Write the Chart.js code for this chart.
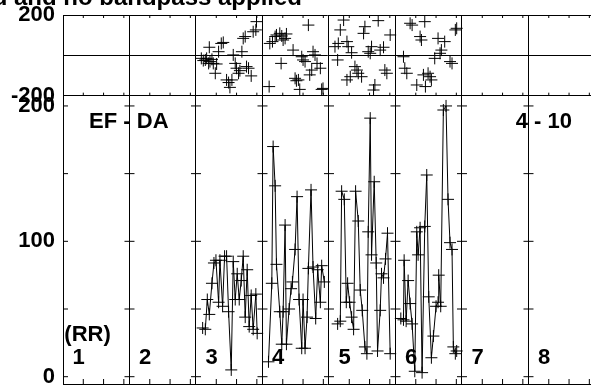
<!DOCTYPE html>
<html>
<head>
<meta charset="utf-8">
<script src="https://cdn.jsdelivr.net/npm/chart.js@4"></script>
<style>
html, body { margin: 0; padding: 0; background: #fff; overflow: hidden; }
canvas { display: block; }
</style>
</head>
<body>
<canvas id="grafico" width="591" height="387"></canvas>
<script>
// rotulos dos segmentos e divisorias
const segmentos = ['1', '2', '3', '4', '5', '6', '7', '8'];
const divisorias = [0, 1, 2, 3, 4, 5, 6, 7];
const marcasX = [0.305, 0.61, 0.915];   // marcas menores dentro de cada segmento
const marcasY = [0, 50, 100, 150, 200];
const ticksTopo = [-200, 0, 200];
const ticksBase = [0, 100, 200];

// painel de cima (dispersao)
const topoX = [2.08, 2.11, 2.14, 2.16, 2.19, 2.21, 2.24, 2.26, 2.29, 2.31, 2.20, 2.34, 2.38, 2.41, 2.46, 2.49,
  2.51, 2.54, 2.56, 2.59, 2.61, 2.64, 2.66, 2.69, 2.71, 2.74, 2.76, 2.79, 2.83, 2.86, 2.90, 2.91,
  3.11, 3.15, 3.19, 3.21, 3.26, 3.29, 3.31, 3.34, 3.36, 3.10, 3.28, 3.46, 3.49, 3.51, 3.54, 3.56,
  3.59, 3.61, 3.64, 3.69, 3.71, 3.74, 3.76, 3.79, 3.82, 3.87, 3.89, 3.91,
  4.22, 4.17, 4.54, 4.52, 4.74, 4.92, 4.09, 4.14, 4.27, 4.29, 4.34, 4.59, 4.64, 4.62, 4.77, 4.82,
  4.13, 4.39, 4.42, 4.44, 4.49, 4.27, 4.32, 4.84, 4.87, 4.69, 4.67,
  5.22, 5.25, 5.44, 5.37, 5.39, 5.90, 5.92, 5.64, 5.74, 5.69, 5.67, 5.59, 5.82, 5.85, 5.12, 5.14,
  5.17, 5.42, 5.49, 5.52, 5.54, 5.32, 5.45];
const topoY = [-15, -26, -23, -15, -40, -31, -20, -40, -89, -43, 40, 18, 59, 64, -122, -135,
  -159, -122, 2, -40, -64, -89, -76, 18, 84, 93, -56, -64, -102, 117, 126, 167,
  59, 68, 93, 101, 109, 96, 76, 84, 106, -155, -40, 26, -114, -126, -122, -169,
  -7, -23, -31, 150, -97, -73, 18, 2, -40, -64, -169, -164,
  175, 126, 142, 109, 172, 101, 43, 59, 68, 43, 13, 18, 43, 10, 26, 40,
  -23, -56, -73, -89, -106, -122, -106, -73, -89, -147, -172,
  159, 150, 167, 93, 76, 126, 134, 84, 68, 26, 10, -15, -31, -40, -7, -64,
  -89, -97, -89, -106, -122, -147, -155];

// painel de baixo (RR), um par de listas por segmento
const rrX3 = [2.10, 2.14, 2.17, 2.20, 2.24, 2.27, 2.30, 2.34, 2.36, 2.40, 2.43, 2.46, 2.49, 2.53,
  2.56, 2.59, 2.62, 2.65, 2.68, 2.71, 2.74, 2.77, 2.80, 2.83, 2.86, 2.90, 2.92];
const rrY3 = [36, 35, 57, 46, 69, 84, 86, 55, 86, 52, 89, 89, 48, 5, 85, 57, 76, 57, 71, 89, 44, 79, 37, 60, 35, 61, 32];
const rrX4 = [3.09, 3.14, 3.16, 3.19, 3.21, 3.26, 3.29, 3.31, 3.34, 3.36, 3.40, 3.43, 3.45, 3.49,
  3.52, 3.55, 3.59, 3.61, 3.64, 3.67, 3.69, 3.73, 3.76, 3.80, 3.83, 3.87, 3.89, 3.93];
const rrY4 = [11, 69, 170, 141, 83, 48, 24, 48, 112, 24, 50, 65, 70, 94, 133, 57, 21, 57, 21, 44, 80, 138, 81, 43, 79, 55, 82, 70];
const rrX5 = [4.13, 4.17, 4.19, 4.23, 4.26, 4.28, 4.31, 4.34, 4.37, 4.40, 4.44, 4.47, 4.50, 4.54,
  4.57, 4.59, 4.62, 4.64, 4.68, 4.71, 4.73, 4.77, 4.79, 4.82, 4.85, 4.88, 4.92];
const rrY5 = [39, 41, 137, 131, 55, 69, 55, 44, 35, 137, 115, 64, 49, 22, 17, 107, 191, 90, 144, 84, 19, 49, 76, 73, 87, 106, 17];
const rrX6 = [5.08, 5.12, 5.13, 5.16, 5.19, 5.22, 5.25, 5.29, 5.32, 5.34, 5.37, 5.40, 5.44, 5.47,
  5.50, 5.54, 5.57, 5.61, 5.64, 5.65, 5.68, 5.72, 5.76, 5.79, 5.82, 5.85, 5.87, 5.90, 5.92];
const rrY6 = [43, 42, 86, 41, 71, 54, 39, 4, 107, 90, 110, 3, 111, 149, 59, 14, 30, 52, 55, 75, 52, 197, 200, 131, 99, 94, 22, 17, 19];

const BASE_MIN = -5.4, BASE_MAX = 207.6;
const fonte = '"Liberation Sans", Arial, Helvetica, sans-serif';

function pares(xs, ys) {
  return xs.map((x, i) => ({ x: x, y: ys[i] }));
}

function serieRR(xs, ys) {
  return {
    type: 'line', yAxisID: 'yBase', data: pares(xs, ys),
    borderColor: '#000', borderWidth: 1, tension: 0,
    pointStyle: 'cross', pointRadius: 6, pointBorderColor: '#000', pointBorderWidth: 1,
    order: 1
  };
}

// marcas de eixo feitas como pontos em forma de linha
let cruzes = [];
divisorias.forEach(d => marcasY.forEach(v => cruzes.push({ x: d, y: v })));
let menoresTopo = [];
let menoresBase = [];
divisorias.forEach(d => marcasX.forEach(m => {
  menoresTopo.push({ x: d + m, y: 200 });
  menoresTopo.push({ x: d + m, y: -200 });
  menoresBase.push({ x: d + m, y: BASE_MIN });
}));

function marca(yID, data, raio, rot) {
  return {
    type: 'scatter', yAxisID: yID, data: data,
    pointStyle: 'line', pointRadius: raio, rotation: rot,
    borderColor: '#000', pointBorderColor: '#000', pointBorderWidth: 1, borderWidth: 1,
    order: 3
  };
}

function zeraPadding(s) {
  s.paddingTop = 0; s.paddingBottom = 0; s.paddingLeft = 0; s.paddingRight = 0;
}

const textos = {
  id: 'textos',
  afterDatasetsDraw(chart) {
    const ctx = chart.ctx;
    const x = chart.scales.x;
    const y = chart.scales.yBase;
    ctx.save();
    ctx.fillStyle = '#000';
    ctx.font = 'bold 22px ' + fonte;
    ctx.textAlign = 'center';
    ctx.textBaseline = 'middle';
    segmentos.forEach((s, i) => ctx.fillText(s, x.getPixelForValue(i + 0.235), y.getPixelForValue(14)));
    ctx.fillText('EF - DA', x.getPixelForValue(0.99), y.getPixelForValue(188));
    ctx.fillText('4 - 10', x.getPixelForValue(7.23), y.getPixelForValue(188));
    ctx.textAlign = 'left';
    ctx.fillText('(RR)', x.getPixelForValue(0.02), y.getPixelForValue(31));
    // titulo cortado no topo
    ctx.font = 'bold 24px ' + fonte;
    ctx.textAlign = 'right';
    ctx.textBaseline = 'alphabetic';
    ctx.fillText('Data detrended and no bandpass applied', 302, 5);
    ctx.restore();
  }
};

const fonteTicks = { family: fonte, size: 22, weight: 'bold' };

const config = {
  data: {
    datasets: [
      {
        type: 'scatter', yAxisID: 'yTopo', data: pares(topoX, topoY),
        pointStyle: 'cross', pointRadius: 6, pointBorderColor: '#000', pointBorderWidth: 1,
        borderColor: '#000', order: 2
      },
      serieRR(rrX3, rrY3),
      serieRR(rrX4, rrY4),
      serieRR(rrX5, rrY5),
      serieRR(rrX6, rrY6),
      marca('yBase', cruzes, 5, 0),
      marca('yTopo', menoresTopo, 3, 90),
      marca('yBase', menoresBase, 5, 90)
    ]
  },
  options: {
    responsive: false,
    animation: false,
    events: [],
    devicePixelRatio: 1,
    layout: { autoPadding: false, padding: { top: 15, bottom: 3, left: 0, right: 0 } },
    plugins: { legend: { display: false }, tooltip: { enabled: false }, title: { display: false } },
    scales: {
      x: {
        type: 'linear', min: 0, max: 7.94,
        afterBuildTicks: s => { s.ticks = divisorias.map(v => ({ value: v })); },
        ticks: { display: false },
        grid: { color: '#000', lineWidth: 1, drawTicks: false },
        border: { display: true, color: '#000' },
        afterFit: s => { s.height = 0; zeraPadding(s); }
      },
      yTopo: {
        type: 'linear', position: 'left', stack: 'painel', stackWeight: 80.7, weight: 1,
        min: -200, max: 200,
        afterBuildTicks: s => { s.ticks = ticksTopo.map(v => ({ value: v })); },
        ticks: { font: fonteTicks, color: '#000', padding: 8, autoSkip: false, callback: v => (v === 0 ? '' : v) },
        grid: { color: '#000', lineWidth: 1, drawTicks: false },
        border: { display: true, color: '#000' },
        afterFit: s => { s.width = 63; zeraPadding(s); }
      },
      yBase: {
        type: 'linear', position: 'left', stack: 'painel', stackWeight: 288.5, weight: 0,
        min: BASE_MIN, max: BASE_MAX,
        afterBuildTicks: s => { s.ticks = ticksBase.map(v => ({ value: v })); },
        ticks: { font: fonteTicks, color: '#000', padding: 8, autoSkip: false },
        grid: { display: false, drawTicks: false },
        border: { display: true, color: '#000' },
        afterFit: s => { s.width = 63; zeraPadding(s); }
      }
    }
  },
  plugins: [textos]
};

const ctx = document.getElementById('grafico');
const grafico = new Chart(ctx, config);
</script>
</body>
</html>
